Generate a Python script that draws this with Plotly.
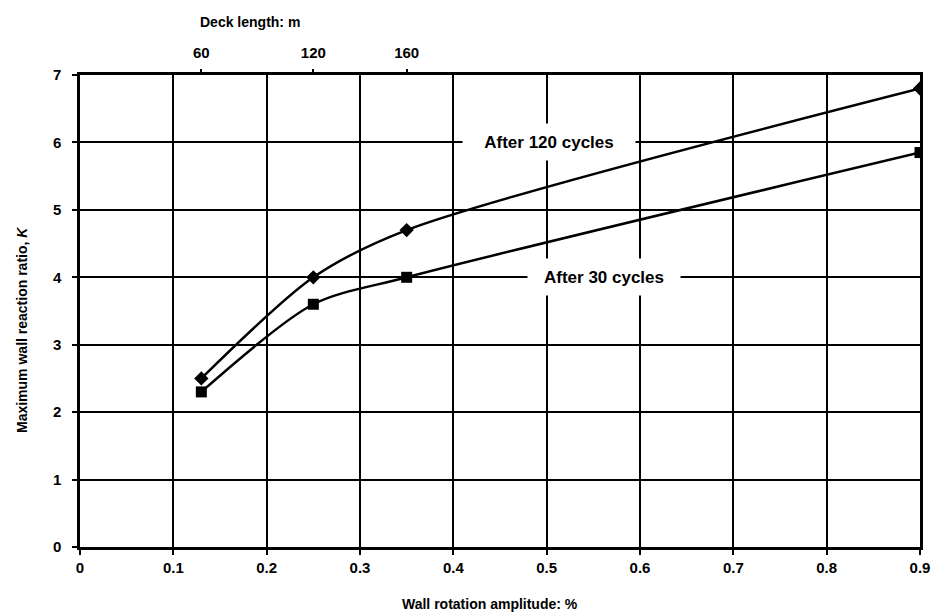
import plotly.graph_objects as go

x_rot = [0.13, 0.25, 0.35, 0.9]
k_120 = [2.5, 4.0, 4.7, 6.8]
k_30 = [2.3, 3.6, 4.0, 5.85]
deck_pos = [0.13, 0.25, 0.35]
deck_labels = ["60", "120", "160"]
x_ticks = [0, 0.1, 0.2, 0.3, 0.4, 0.5, 0.6, 0.7, 0.8, 0.9]
x_ticklabels = ["0", "0.1", "0.2", "0.3", "0.4", "0.5", "0.6", "0.7", "0.8", "0.9"]
y_ticks = [0, 1, 2, 3, 4, 5, 6, 7]

FONT = "Liberation Sans"
tickfont = dict(family=FONT, size=15, color="black", weight="bold")
labfont = dict(family=FONT, size=14, color="black", weight="bold")
notefont = dict(family=FONT, size=17, color="black", weight="bold")

fig = go.Figure()
fig.add_trace(go.Scatter(x=x_rot, y=k_120, mode="lines+markers",
                         line=dict(color="black", width=2.5, shape="spline", smoothing=0.8),
                         marker=dict(symbol="diamond", size=11, color="black"),
                         showlegend=False))
fig.add_trace(go.Scatter(x=x_rot, y=k_30, mode="lines+markers",
                         line=dict(color="black", width=2.5, shape="spline", smoothing=0.8),
                         marker=dict(symbol="square", size=11, color="black"),
                         showlegend=False))
fig.add_trace(go.Scatter(x=[0, 0.9], y=[None, None], xaxis="x2", showlegend=False,
                         hoverinfo="skip"))

fig.update_layout(
    width=935, height=614,
    margin=dict(l=80, r=15, t=75, b=67),
    paper_bgcolor="white", plot_bgcolor="white",
    xaxis=dict(range=[0, 0.9], tickvals=x_ticks, ticktext=x_ticklabels, automargin=False,
               showgrid=True, gridcolor="black", gridwidth=1.5,
               showline=True, linecolor="black", linewidth=2.5, mirror=True,
               ticks="outside", ticklen=5, tickcolor="black", tickwidth=1.5,
               tickfont=tickfont, zeroline=False),
    xaxis2=dict(range=[0, 0.9], overlaying="x", side="top", tickvals=deck_pos, automargin=False,
                ticktext=deck_labels, showgrid=False, ticks="outside", ticklen=5,
                tickcolor="black", tickwidth=1.5, tickfont=tickfont, zeroline=False,
                ticklabelstandoff=5),
    yaxis=dict(range=[0, 7], tickvals=y_ticks, automargin=False,
               showgrid=True, gridcolor="black", gridwidth=1.5,
               showline=True, linecolor="black", linewidth=2.5, mirror=True,
               ticks="outside", ticklen=5, tickcolor="black", tickwidth=1.5,
               tickfont=tickfont, zeroline=False, ticklabelstandoff=8),
)

fig.add_annotation(xref="paper", yref="paper", x=(250 - 80) / 840, y=1 + (75 - 22) / 472,
                   xanchor="center", yanchor="middle",
                   text="Deck length: m", showarrow=False, font=labfont)
fig.add_annotation(xref="paper", yref="paper", x=(490 - 80) / 840, y=-(604 - 547) / 472,
                   xanchor="center", yanchor="middle",
                   text="Wall rotation amplitude: %", showarrow=False, font=labfont)
fig.add_annotation(xref="paper", yref="paper", x=-(80 - 22) / 840, y=(547 - 330) / 472,
                   xanchor="center", yanchor="middle",
                   text="Maximum wall reaction ratio, <i>K</i>", showarrow=False,
                   textangle=-90, font=labfont)

fig.add_annotation(x=0.503, y=6, text="After 120 cycles", showarrow=False,
                   bgcolor="white", borderpad=0, width=172, height=36, font=notefont)
fig.add_annotation(x=0.5614, y=4, text="After 30 cycles", showarrow=False,
                   bgcolor="white", borderpad=0, width=152, height=36, font=notefont)

fig.write_html("out.html")
